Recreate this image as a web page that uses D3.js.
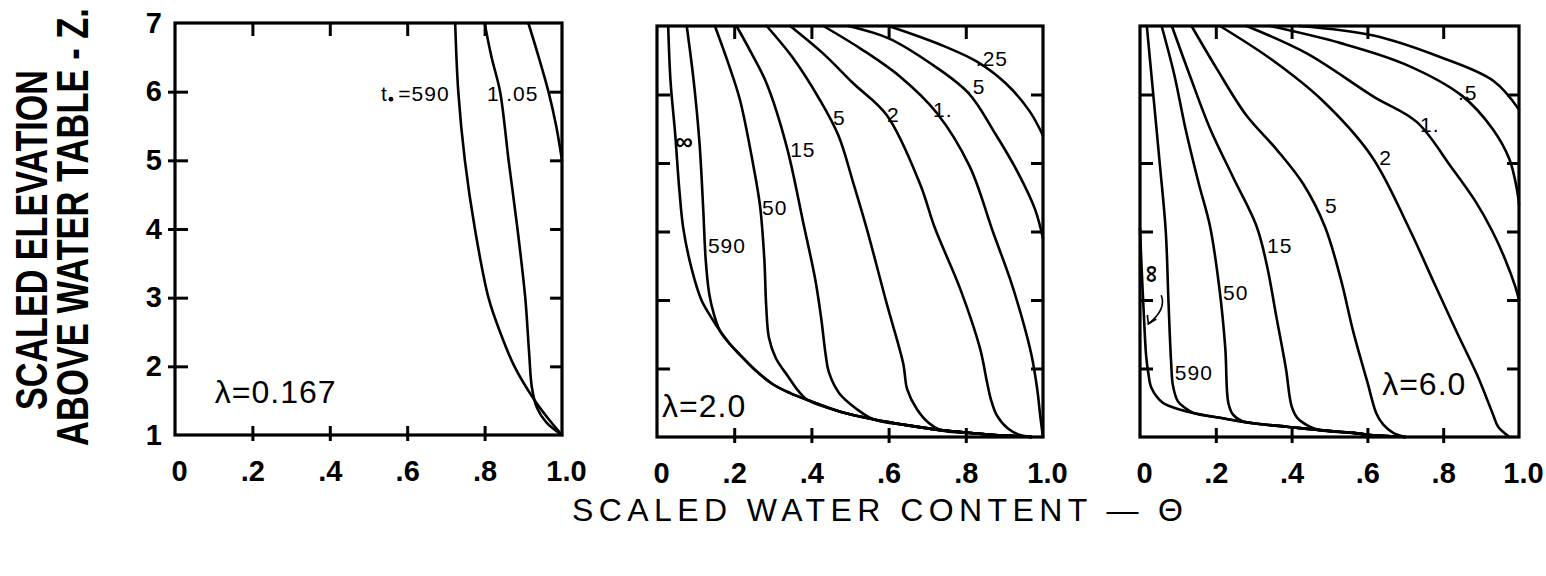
<!DOCTYPE html>
<html>
<head>
<meta charset="utf-8">
<script src="https://cdn.jsdelivr.net/npm/d3@7"></script>
<style>
  html, body { margin: 0; padding: 0; background: #fff; }
  svg { display: block; }
  text { font-family: "Liberation Sans", Arial, sans-serif; fill: #000; }
</style>
</head>
<body>
<svg id="chart" width="1546" height="576"></svg>
<script>
// ---- axis ticks shared by the three panels ----
const thetaTicks = [0, 0.2, 0.4, 0.6, 0.8, 1.0];
const thetaTickLabels = ["0", ".2", ".4", ".6", ".8", "1.0"];
const zTicks = [1, 2, 3, 4, 5, 6, 7];
const zTickLabels = ["1", "2", "3", "4", "5", "6", "7"];

// ---- λ = 0.167 : moisture profiles [θ, z] ----
const lamA = "λ=0.167";
const lamA_times = ["t", "=590", "1", ".05"];
const lamA_t590 = [[0.724,7],[0.732,6],[0.749,5],[0.775,4],[0.81,3],[0.84,2.5],[0.877,2],[0.93,1.5],[0.97,1.2],[1.0,1]];
const lamA_t1   = [[0.80,7],[0.818,6.5],[0.84,6],[0.862,5],[0.885,4],[0.905,3],[0.915,2.2],[0.922,1.7],[0.935,1.4],[0.96,1.18],[1.0,1]];
const lamA_t005 = [[0.913,7],[0.94,6.5],[0.965,6],[0.985,5.5],[1.0,5.0]];

// ---- λ = 2.0 ----
const lamB = "λ=2.0";
const lamB_times = ["∞", "590", "50", "15", "5", "2", "1.", ".5", ".25"];
const lamB_front = [[0.163,2.55],[0.19,2.35],[0.215,2.2],[0.25,2.0],[0.30,1.77],[0.345,1.64],[0.39,1.54],[0.475,1.37],[0.56,1.26],[0.65,1.17],[0.735,1.1],[0.82,1.055],[0.9,1.02],[0.97,1.0]];
const lamB_tInf = [[0.029,7],[0.035,6.2],[0.047,5.43],[0.058,4.6],[0.068,4.05],[0.09,3.45],[0.115,3.0],[0.14,2.75]];
const lamB_t590 = [[0.077,7],[0.095,6.2],[0.11,5.3],[0.12,4.3],[0.126,3.6],[0.135,3.1],[0.147,2.8]];
const lamB_t50  = [[0.15,7],[0.185,6.45],[0.215,5.92],[0.25,4.95],[0.267,4.37],[0.278,3.6],[0.283,2.9],[0.29,2.45],[0.308,2.15],[0.34,1.88],[0.365,1.68]];
const lamB_t15  = [[0.206,7],[0.245,6.6],[0.284,6.16],[0.336,5.24],[0.38,4.1],[0.41,3.3],[0.425,2.75],[0.437,2.2],[0.445,1.95],[0.472,1.64],[0.517,1.41]];
const lamB_t5   = [[0.284,7],[0.35,6.55],[0.422,5.92],[0.47,5.4],[0.509,4.7],[0.543,4.05],[0.595,2.95],[0.638,2.07],[0.648,1.7],[0.673,1.41],[0.705,1.2]];
const lamB_t2   = [[0.345,7],[0.43,6.6],[0.509,6.16],[0.595,5.7],[0.681,4.7],[0.72,4.05],[0.785,3.17],[0.837,2.29],[0.855,1.8],[0.865,1.55],[0.88,1.32],[0.91,1.12],[0.94,1.03]];
const lamB_t1   = [[0.431,7],[0.53,6.66],[0.63,6.26],[0.725,5.73],[0.81,4.95],[0.87,4.0],[0.915,3.3],[0.945,2.75],[0.97,2.2],[0.985,1.7],[0.993,1.3],[1.0,1.0]];
const lamB_t05  = [[0.496,7],[0.6,6.82],[0.707,6.46],[0.807,6.02],[0.876,5.43],[0.936,4.85],[0.979,4.33],[1.0,3.9]];
const lamB_t025 = [[0.60,7],[0.733,6.73],[0.832,6.47],[0.906,6.15],[0.966,5.75],[1.0,5.4]];

// ---- λ = 6.0 ----
const lamC = "λ=6.0";
const lamC_times = ["∞", "590", "50", "15", "5", "2", "1.", ".5"];
const lamC_front = [[0.035,1.64],[0.06,1.5],[0.079,1.45],[0.141,1.35],[0.211,1.28],[0.299,1.2],[0.387,1.15],[0.475,1.10],[0.563,1.06],[0.607,1.03],[0.668,1.01],[0.70,1.0]];
const lamC_tInf = [[0.0,4.05],[0.004,3.5],[0.01,2.8],[0.016,2.2],[0.022,1.93],[0.03,1.72]];
const lamC_t590 = [[0.018,7],[0.035,6],[0.052,5],[0.068,4],[0.075,3],[0.082,2.1],[0.087,1.75],[0.1,1.52],[0.12,1.42]];
const lamC_t50  = [[0.057,7],[0.09,6.3],[0.12,5.5],[0.155,4.7],[0.185,4.07],[0.211,3.1],[0.225,2.3],[0.233,1.5],[0.245,1.33],[0.27,1.23]];
const lamC_t15  = [[0.084,7],[0.13,6.3],[0.185,5.5],[0.245,4.8],[0.308,4.07],[0.335,3.5],[0.36,2.75],[0.385,2.0],[0.40,1.45],[0.415,1.28],[0.445,1.16]];
const lamC_t5   = [[0.136,7],[0.2,6.4],[0.28,5.7],[0.36,5.2],[0.43,4.7],[0.488,4.07],[0.53,3.3],[0.563,2.53],[0.6,1.8],[0.624,1.34],[0.642,1.18],[0.668,1.06]];
const lamC_t2   = [[0.211,7],[0.35,6.5],[0.48,5.92],[0.611,5.1],[0.708,4.07],[0.78,3.2],[0.836,2.53],[0.89,1.9],[0.93,1.35],[0.945,1.15],[0.975,1.0]];
const lamC_t1   = [[0.281,7],[0.44,6.6],[0.616,5.97],[0.73,5.6],[0.82,4.95],[0.884,4.45],[0.93,4.0],[0.963,3.6],[0.99,3.2],[1.0,3.0]];
const lamC_t05  = [[0.343,7],[0.53,6.75],[0.70,6.44],[0.85,5.98],[0.93,5.5],[0.975,5.05],[0.995,4.6],[1.0,4.4]];
const lamC_t025 = [[0.42,7],[0.616,6.86],[0.79,6.55],[0.932,6.2],[1.0,5.78]];

// join a profile onto the common lower front once it has merged with it
function withFront(pts, front) {
  const last = pts[pts.length - 1][0];
  return pts.concat(front.filter(p => p[0] > last + 0.015));
}

const svg = d3.select("#chart");
const FONT = '"Liberation Sans", Arial, sans-serif';

// panel layout (pixels)
const panels = [
  { x0: 175, x1: 562, yTop: 23, yBot: 435, yLabels: true,
    curves: [lamA_t590, lamA_t1, lamA_t005],
    lambda: { text: lamA, t: 0.103, z: 1.47 },
    notes: [
      { text: lamA_times[0], t: 0.532, z: 5.86 },
      { text: lamA_times[1], t: 0.577, z: 5.86 },
      { text: lamA_times[2], t: 0.806, z: 5.86 },
      { text: lamA_times[3], t: 0.856, z: 5.86 }
    ],
    dots: [{ t: 0.558, z: 5.89 }]
  },
  { x0: 657, x1: 1043, yTop: 26, yBot: 437, yLabels: false,
    curves: [withFront(lamB_tInf, lamB_front), withFront(lamB_t590, lamB_front),
             withFront(lamB_t50, lamB_front), withFront(lamB_t15, lamB_front),
             withFront(lamB_t5, lamB_front), withFront(lamB_t2, lamB_front),
             lamB_t1, lamB_t05, lamB_t025],
    lambda: { text: lamB, t: 0.013, z: 1.29 },
    notes: [
      { text: lamB_times[1], t: 0.132, z: 3.69 },
      { text: lamB_times[2], t: 0.272, z: 4.24 },
      { text: lamB_times[3], t: 0.345, z: 5.09 },
      { text: lamB_times[4], t: 0.456, z: 5.55 },
      { text: lamB_times[5], t: 0.596, z: 5.60 },
      { text: lamB_times[6], t: 0.715, z: 5.67 },
      { text: lamB_times[7], t: 0.80, z: 6.01 },
      { text: lamB_times[8], t: 0.826, z: 6.42 }
    ],
    inf: { t: 0.07, z: 5.32, rot: 0 }
  },
  { x0: 1140, x1: 1519, yTop: 26, yBot: 437, yLabels: false,
    curves: [withFront(lamC_tInf, lamC_front), withFront(lamC_t590, lamC_front),
             withFront(lamC_t50, lamC_front), withFront(lamC_t15, lamC_front),
             withFront(lamC_t5, lamC_front), lamC_t2, lamC_t1, lamC_t05, lamC_t025],
    lambda: { text: lamC, t: 0.639, z: 1.61 },
    notes: [
      { text: lamC_times[1], t: 0.092, z: 1.83 },
      { text: lamC_times[2], t: 0.219, z: 3.0 },
      { text: lamC_times[3], t: 0.335, z: 3.69 },
      { text: lamC_times[4], t: 0.488, z: 4.27 },
      { text: lamC_times[5], t: 0.631, z: 4.97 },
      { text: lamC_times[6], t: 0.739, z: 5.45 },
      { text: lamC_times[7], t: 0.839, z: 5.92 }
    ],
    inf: { t: 0.034, z: 3.38, rot: 90 },
    arrow: true
  }
];

panels.forEach(p => {
  const x = d3.scaleLinear().domain([0, 1]).range([p.x0, p.x1]);
  const y = d3.scaleLinear().domain([1, 7]).range([p.yBot, p.yTop]);
  const g = svg.append("g");

  const inner = [0.2, 0.4, 0.6, 0.8];
  const innerZ = [2, 3, 4, 5, 6];
  const tickStyle = sel => {
    sel.select(".domain").remove();
    sel.selectAll(".tick line").attr("stroke", "#000").attr("stroke-width", 3);
    sel.selectAll(".tick text").remove();
  };

  // bottom ticks cross the axis line
  g.append("g").attr("transform", `translate(0,${p.yBot})`)
    .call(d3.axisBottom(x).tickValues(inner).tickSizeInner(-9).tickSizeOuter(0)).call(tickStyle);
  g.append("g").attr("transform", `translate(0,${p.yBot})`)
    .call(d3.axisBottom(x).tickValues(inner).tickSizeInner(6).tickSizeOuter(0)).call(tickStyle);
  // top ticks point inward
  g.append("g").attr("transform", `translate(0,${p.yTop})`)
    .call(d3.axisTop(x).tickValues(inner).tickSizeInner(-13).tickSizeOuter(0)).call(tickStyle);
  // left ticks
  g.append("g").attr("transform", `translate(${p.x0},0)`)
    .call(d3.axisLeft(y).tickValues(innerZ).tickSizeInner(-13).tickSizeOuter(0)).call(tickStyle);
  if (p.yLabels) {
    g.append("g").attr("transform", `translate(${p.x0},0)`)
      .call(d3.axisLeft(y).tickValues(innerZ).tickSizeInner(7).tickSizeOuter(0)).call(tickStyle);
  }
  // right ticks
  g.append("g").attr("transform", `translate(${p.x1},0)`)
    .call(d3.axisRight(y).tickValues(innerZ).tickSizeInner(-12).tickSizeOuter(0)).call(tickStyle);

  // θ tick labels
  const xl = g.append("g").attr("transform", `translate(0,${p.yBot})`)
    .call(d3.axisBottom(x).tickValues(thetaTicks).tickSize(0).tickPadding(0)
      .tickFormat((d, i) => thetaTickLabels[i]));
  xl.select(".domain").remove();
  xl.selectAll(".tick text")
    .attr("y", 46).attr("dy", 0).attr("dx", (d, i) => i === 0 ? 4 : (i === 5 ? 4 : 0))
    .style("font-family", FONT).style("font-size", "29px").style("font-weight", "bold")
    .attr("fill", "#000");

  // z tick labels
  if (p.yLabels) {
    const yl = g.append("g").attr("transform", `translate(${p.x0},0)`)
      .call(d3.axisLeft(y).tickValues(zTicks).tickSize(0).tickPadding(13)
        .tickFormat((d, i) => zTickLabels[i]));
    yl.select(".domain").remove();
    yl.selectAll(".tick text")
      .style("font-family", FONT).style("font-size", "29px").style("font-weight", "bold")
      .attr("fill", "#000");
  }

  // frame
  g.append("rect")
    .attr("x", p.x0).attr("y", p.yTop)
    .attr("width", p.x1 - p.x0).attr("height", p.yBot - p.yTop)
    .attr("fill", "none").attr("stroke", "#000").attr("stroke-width", 3.2);

  // profiles
  const line = d3.line().x(d => x(d[0])).y(d => y(d[1]))
    .curve(d3.curveCatmullRom.alpha(0.5));
  g.append("g").selectAll("path").data(p.curves).join("path")
    .attr("d", line)
    .attr("fill", "none").attr("stroke", "#000").attr("stroke-width", 2.6)
    .attr("stroke-linejoin", "round").attr("stroke-linecap", "round");

  // time labels
  g.append("g").selectAll("text").data(p.notes).join("text")
    .attr("x", d => x(d.t)).attr("y", d => y(d.z))
    .style("font-size", "21px").style("letter-spacing", "1px")
    .text(d => d.text);

  (p.dots || []).forEach(d => {
    g.append("circle").attr("cx", x(d.t)).attr("cy", y(d.z)).attr("r", 2.4).attr("fill", "#000");
  });

  if (p.inf) {
    g.append("text")
      .attr("transform", `translate(${x(p.inf.t)},${y(p.inf.z)}) rotate(${p.inf.rot})`)
      .attr("text-anchor", "middle").attr("dominant-baseline", "central")
      .style("font-size", "25px").style("font-weight", "bold")
      .text("∞");
  }
  if (p.arrow) {
    const ax = x(0.056), ay = y(3.07), bx = x(0.022), by = y(2.65);
    g.append("path")
      .attr("d", `M${ax},${ay} C${ax + 4},${ay + 10} ${ax - 2},${ay + 20} ${bx},${by}`)
      .attr("fill", "none").attr("stroke", "#000").attr("stroke-width", 1.6);
    g.append("path")
      .attr("d", `M${bx - 1},${by - 9} L${bx},${by} L${bx + 8},${by - 5}`)
      .attr("fill", "none").attr("stroke", "#000").attr("stroke-width", 1.6);
  }

  // λ label
  g.append("text")
    .attr("x", x(p.lambda.t)).attr("y", y(p.lambda.z))
    .style("font-size", "32px").style("letter-spacing", "1px")
    .text(p.lambda.text);
});

// axis titles
svg.append("text")
  .attr("x", 572).attr("y", 521)
  .attr("textLength", 611).attr("lengthAdjust", "spacing")
  .style("font-size", "32px")
  .text("SCALED WATER CONTENT — Θ");

// vertical title: two condensed bold lines, squeezed to their drawn length
function verticalTitle(txt, bx, cy, len) {
  const t = svg.append("text")
    .attr("text-anchor", "middle")
    .style("font-size", "45px").style("font-weight", "bold")
    .text(txt);
  const natural = t.node().getComputedTextLength();
  t.attr("transform", `translate(${bx},${cy}) rotate(-90) scale(${len / natural},1)`);
}
verticalTitle("SCALED ELEVATION", 47, 240, 340);
verticalTitle("ABOVE WATER TABLE - Z.", 88, 227, 438);
</script>
</body>
</html>
